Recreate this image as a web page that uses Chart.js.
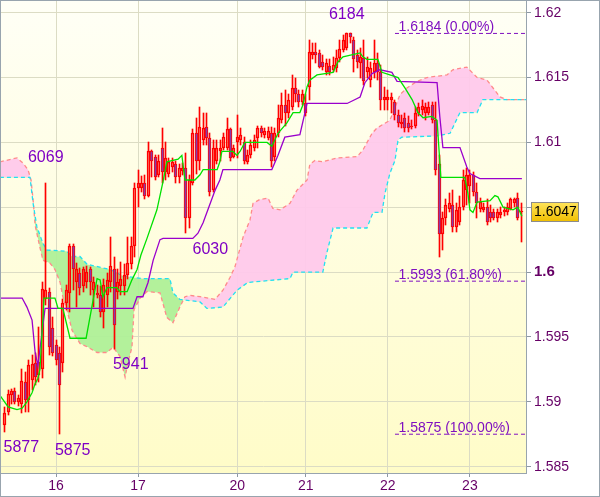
<!DOCTYPE html>
<html>
<head>
<meta charset="utf-8">
<script src="https://cdn.jsdelivr.net/npm/chart.js@4.4.1/dist/chart.umd.min.js"></script>
<style>
html,body{margin:0;padding:0;background:#fff;overflow:hidden}
canvas{display:block}
</style>
</head>
<body>
<canvas id="chart" width="600" height="497"></canvas>
<script>
// hourly candles, index 0..151
const opens = [
  1.5882,1.5892,1.5905,1.5908,1.5900,1.5898,1.5915,1.5901,1.5917,1.5930,
  1.5921,1.5925,1.5979,1.5985,1.5957,1.5944,1.5938,1.5930,1.5976,1.5984,
  1.6020,1.5992,1.5999,1.5989,1.5992,1.6002,1.5986,1.5984,1.5982,1.5969,
  1.5982,1.5992,1.6002,1.5985,1.5989,1.5989,1.5998,1.6006,1.6020,1.6065,
  1.6065,1.6069,1.6059,1.6093,1.6089,1.6075,1.6096,1.6077,1.6076,1.6081,
  1.6083,1.6073,1.6078,1.6080,1.6042,1.6069,1.6107,1.6086,1.6102,1.6112,
  1.6103,1.6063,1.6086,1.6093,1.6096,1.6096,1.6110,1.6089,1.6100,1.6102,
  1.6100,1.6085,1.6090,1.6096,1.6103,1.6111,1.6106,1.6103,1.6107,1.6089,
  1.6107,1.6117,1.6129,1.6123,1.6127,1.6142,1.6137,1.6131,1.6130,1.6143,
  1.6167,1.6170,1.6169,1.6162,1.6154,1.6159,1.6156,1.6157,1.6165,1.6171,
  1.6173,1.6184,1.6179,1.6167,1.6161,1.6165,1.6154,1.6148,1.6154,1.6161,
  1.6154,1.6133,1.6133,1.6133,1.6131,1.6121,1.6114,1.6119,1.6115,1.6112,
  1.6113,1.6123,1.6125,1.6123,1.6123,1.6129,1.6117,1.6083,1.6029,1.6042,
  1.6049,1.6052,1.6035,1.6039,1.6050,1.6063,1.6066,1.6075,1.6062,1.6049,
  1.6048,1.6050,1.6046,1.6046,1.6042,1.6044,1.6046,1.6046,1.6049,1.6053,
  1.6057,1.6046
];
const highs = [
  1.5896,1.5909,1.5910,1.5911,1.5905,1.5925,1.5923,1.5932,1.5936,1.5938,
  1.5958,1.5992,1.6069,1.5988,1.5965,1.5948,1.5942,1.5979,1.5990,1.6022,
  1.6022,1.6007,1.6003,1.6004,1.6005,1.6004,1.5996,1.5990,1.5989,1.5995,
  1.5999,1.6027,1.6012,1.6002,1.6008,1.6006,1.6027,1.6027,1.6069,1.6079,
  1.6074,1.6075,1.6100,1.6094,1.6090,1.6090,1.6111,1.6100,1.6088,1.6088,
  1.6086,1.6083,1.6084,1.6092,1.6075,1.6110,1.6119,1.6127,1.6123,1.6123,
  1.6107,1.6102,1.6102,1.6102,1.6107,1.6119,1.6111,1.6098,1.6121,1.6111,
  1.6104,1.6094,1.6102,1.6106,1.6113,1.6113,1.6111,1.6112,1.6112,1.6111,
  1.6129,1.6138,1.6140,1.6137,1.6152,1.6150,1.6140,1.6140,1.6137,1.6179,
  1.6177,1.6177,1.6171,1.6167,1.6164,1.6164,1.6166,1.6171,1.6179,1.6183,
  1.6184,1.6184,1.6181,1.6171,1.6173,1.6179,1.6166,1.6162,1.6179,1.6169,
  1.6160,1.6143,1.6140,1.6138,1.6133,1.6125,1.6121,1.6123,1.6120,1.6117,
  1.6127,1.6130,1.6133,1.6130,1.6131,1.6131,1.6131,1.6090,1.6046,1.6056,
  1.6061,1.6063,1.6053,1.6059,1.6079,1.6080,1.6079,1.6077,1.6069,1.6057,
  1.6053,1.6056,1.6052,1.6049,1.6049,1.6050,1.6050,1.6053,1.6057,1.6057,
  1.6061,1.6053
];
const lows = [
  1.5877,1.5890,1.5898,1.5898,1.5897,1.5891,1.5892,1.5892,1.5909,1.5913,
  1.5915,1.5918,1.5975,1.5936,1.5935,1.5928,1.5875,1.5923,1.5971,1.5969,
  1.5986,1.5973,1.5982,1.5985,1.5988,1.5982,1.5973,1.5980,1.5965,1.5957,
  1.5973,1.5985,1.5941,1.5979,1.5982,1.5982,1.5995,1.6002,1.6012,1.6050,
  1.6062,1.6056,1.6058,1.6073,1.6071,1.6073,1.6069,1.6071,1.6073,1.6077,
  1.6069,1.6069,1.6075,1.6030,1.6034,1.6067,1.6076,1.6079,1.6098,1.6098,
  1.6059,1.6062,1.6083,1.6086,1.6094,1.6094,1.6086,1.6088,1.6088,1.6098,
  1.6083,1.6083,1.6088,1.6093,1.6096,1.6104,1.6103,1.6102,1.6081,1.6086,
  1.6104,1.6115,1.6113,1.6119,1.6125,1.6131,1.6127,1.6129,1.6120,1.6133,
  1.6164,1.6161,1.6157,1.6156,1.6152,1.6152,1.6154,1.6154,1.6162,1.6170,
  1.6171,1.6177,1.6154,1.6157,1.6150,1.6144,1.6150,1.6143,1.6150,1.6148,
  1.6125,1.6125,1.6125,1.6123,1.6117,1.6112,1.6111,1.6108,1.6108,1.6110,
  1.6111,1.6120,1.6121,1.6117,1.6121,1.6115,1.6075,1.6012,1.6017,1.6036,
  1.6046,1.6031,1.6031,1.6036,1.6048,1.6052,1.6053,1.6059,1.6042,1.6046,
  1.6046,1.6036,1.6039,1.6040,1.6039,1.6042,1.6043,1.6044,1.6048,1.6050,
  1.6040,1.6023
];
const closes = [
  1.5891,1.5906,1.5908,1.5900,1.5903,1.5916,1.5901,1.5928,1.5929,1.5919,
  1.5931,1.5987,1.5986,1.5942,1.5938,1.5932,1.5913,1.5976,1.5986,1.6020,
  1.6002,1.6002,1.5988,1.6002,1.6000,1.5992,1.5992,1.5982,1.5969,1.5990,
  1.5994,1.6005,1.5959,1.5992,1.5995,1.5998,1.6007,1.6020,1.6065,1.6069,
  1.6069,1.6059,1.6093,1.6086,1.6073,1.6086,1.6077,1.6088,1.6085,1.6085,
  1.6073,1.6080,1.6080,1.6042,1.6071,1.6107,1.6086,1.6112,1.6111,1.6103,
  1.6062,1.6096,1.6096,1.6096,1.6104,1.6110,1.6088,1.6096,1.6104,1.6106,
  1.6086,1.6090,1.6098,1.6102,1.6111,1.6107,1.6109,1.6109,1.6086,1.6107,
  1.6119,1.6129,1.6123,1.6133,1.6142,1.6137,1.6131,1.6137,1.6123,1.6170,
  1.6170,1.6167,1.6158,1.6158,1.6161,1.6154,1.6160,1.6165,1.6172,1.6179,
  1.6184,1.6181,1.6164,1.6162,1.6166,1.6147,1.6158,1.6157,1.6161,1.6154,
  1.6133,1.6135,1.6135,1.6135,1.6121,1.6115,1.6116,1.6111,1.6111,1.6113,
  1.6123,1.6127,1.6128,1.6127,1.6127,1.6117,1.6079,1.6029,1.6042,1.6052,
  1.6053,1.6035,1.6048,1.6050,1.6071,1.6075,1.6075,1.6062,1.6053,1.6054,
  1.6050,1.6039,1.6042,1.6042,1.6046,1.6046,1.6048,1.6050,1.6056,1.6056,
  1.6042,1.6047
];

// tenkan (green) and kijun (purple), as bar index / price
const tenkanIdx = [-1.4,1,3.6,5.1,6.5,8,8.9,9.7,10.3,11.5,14.7,15.6,17,19.1,23.8,27,27.9,28.7,29.9,32.8,33.7,35.8,37.2,38.7,39.8,41.6,44.5,46.3,47.4,50.7,51.8,52.7,55.6,57.1,58,62.1,62.9,63.5,66.7,67.9,68.8,70.2,76.7,78.1,79.9,82.5,84.3,86.3,87.2,88.4,89.2,91.3,96,97.4,98.9,103.9,104.7,105.9,109.1,110.3,112.6,115,117,119.1,120.8,122.3,124.9,126.4,127.5,134.5,135.4,136,136.9,138.1,141.9,143.3,144.2,145.7,148.6,150,151.2];
const tenkanVal = [1.5905,1.5896,1.5894,1.5895,1.5900,1.5907,1.5914,1.5918,1.5925,1.5980,1.5980,1.5972,1.5972,1.5949,1.5949,1.5995,1.5994,1.5981,1.5988,1.5988,1.5985,1.5985,1.5994,1.6002,1.6013,1.6026,1.6048,1.6070,1.6085,1.6087,1.6090,1.6071,1.6071,1.6075,1.6079,1.6079,1.6085,1.6093,1.6093,1.6090,1.6093,1.6100,1.6100,1.6097,1.6107,1.6115,1.6123,1.6123,1.6129,1.6143,1.6148,1.6152,1.6154,1.6162,1.6166,1.6169,1.6166,1.6164,1.6164,1.6154,1.6152,1.6150,1.6142,1.6133,1.6123,1.6119,1.6120,1.6117,1.6073,1.6073,1.6061,1.6048,1.6046,1.6054,1.6055,1.6059,1.6058,1.6050,1.6048,1.6050,1.6043];
const kijunIdx = [-1.4,5.1,6.5,8,8.9,9.7,11.8,37.5,38.7,40.4,41.9,43.4,45.4,46.3,55,56.5,58,59.4,61.5,62.9,63.8,78.1,79.9,81.9,86.3,88.4,100.1,103.9,105.3,107.4,109.7,113.2,114.7,126.4,127.2,128.1,133.1,135.1,136,138.9,151.2];
const kijunVal = [1.5980,1.5980,1.5973,1.5963,1.5938,1.5928,1.5972,1.5972,1.5981,1.5981,1.5992,1.6009,1.6025,1.6026,1.6026,1.6030,1.6038,1.6048,1.6063,1.6071,1.6079,1.6079,1.6090,1.6104,1.6106,1.6130,1.6130,1.6135,1.6146,1.6153,1.6156,1.6154,1.6147,1.6146,1.6120,1.6096,1.6096,1.6081,1.6076,1.6072,1.6072];

// cloud spans
const spanAIdx = [-1.4,3.6,5.35,6.8,7.7,8.3,8.9,10.3,11.2,13.2,14.7,16.2,17.0,18.2,19.7,22.0,24.4,27.0,29.9,31.7,33.7,35.2,36.0,37.2,37.8,39.6,41.6,45.4,47.4,49.2,51.2,52.7,54.2,57.1,61.5,63.8,65.9,67.3,69.7,71.7,72.6,74.6,77.0,78.4,80.5,83.4,85.4,88.4,89.2,90.7,93.0,97.1,103.0,104.7,107.4,108.8,112.6,115.6,117.6,120.5,123.4,129.3,131.0,135.1,138.1,141.0,144.8,146.8,152.4];
const spanAVal = [1.6085,1.6088,1.6084,1.6079,1.6071,1.6056,1.6036,1.6019,1.6009,1.6007,1.6002,1.5992,1.5981,1.5971,1.5955,1.5945,1.5942,1.5938,1.5938,1.5942,1.5935,1.5919,1.5930,1.5942,1.5971,1.5980,1.5985,1.5984,1.5965,1.5961,1.5973,1.5981,1.5982,1.5981,1.5979,1.5986,1.5996,1.6004,1.6027,1.6040,1.6053,1.6056,1.6057,1.6049,1.6048,1.6053,1.6063,1.6071,1.6083,1.6086,1.6085,1.6088,1.6089,1.6094,1.6107,1.6111,1.6117,1.6137,1.6142,1.6147,1.6150,1.6152,1.6156,1.6158,1.6150,1.6148,1.6135,1.6133,1.6133];
const spanBIdx = [-1.4,7.4,8.3,9.4,11.2,12.4,18.2,19.7,22.0,24.1,30.8,34.6,40.4,48.3,49.2,51.2,57.1,59.1,63.8,67.9,71.1,83.4,84.3,93.0,94.2,96.0,105.9,107.7,110.3,111.2,112.6,114.1,115.0,116.1,126.4,130.2,133.1,138.1,139.8,152.4];
const spanBVal = [1.6073,1.6073,1.6053,1.6035,1.6022,1.6017,1.6016,1.6012,1.6012,1.6006,1.6002,1.5997,1.5995,1.5995,1.5984,1.5979,1.5977,1.5972,1.5973,1.5986,1.5992,1.5995,1.6000,1.6000,1.6015,1.6034,1.6034,1.6046,1.6046,1.6061,1.6076,1.6086,1.6102,1.6104,1.6105,1.6107,1.6123,1.6123,1.6133,1.6133];

const dayTicks = [15, 39, 68, 88, 112, 136];
const dayLabels = ['16', '17', '20', '21', '22', '23'];
const priceTicks = [1.585, 1.59, 1.595, 1.6, 1.605, 1.61, 1.615, 1.62];
const fibLevels = [1.6184, 1.5993, 1.5875];
const fibLabels = ['1.6184 (0.00%)', '1.5993 (61.80%)', '1.5875 (100.00%)'];
const fibStart = 114.1;
const swingLabels = [
  {text: '6069', i: 12, kind: 'high'},
  {text: '6184', i: 100, kind: 'high'},
  {text: '6030', i: 53, kind: 'low'},
  {text: '5941', i: 32, kind: 'low'},
  {text: '5877', i: 0, kind: 'low'},
  {text: '5875', i: 16, kind: 'low'}
];

const xMin = -1.08, xMax = 152.4;
const yMin = 1.58451, yMax = 1.6209;

const FONT = 'Liberation Sans';
const gridColor = '#dcdcc4';
const axisColor = '#98a4ae';
const labelColor = '#660066';

const idx = opens.map((_, i) => i);
const pts = (xs, ys) => xs.map((x, k) => ({x: x, y: ys[k]}));
const bodies = idx.map(i => ({x: i, y: [opens[i], closes[i]]}));
const upperWicks = idx.map(i => ({x: i, y: [Math.max(opens[i], closes[i]), highs[i]]}));
const lowerWicks = idx.map(i => ({x: i, y: [lows[i], Math.min(opens[i], closes[i])]}));
const bodyFill = idx.map(i => closes[i] < opens[i] ? '#8a3aa8' : 'rgba(0,0,0,0)');

const fibSets = fibLevels.map(l => ({
  type: 'line', data: [{x: fibStart, y: l}, {x: xMax, y: l}],
  borderColor: '#7f10c0', borderWidth: 1, borderDash: [4, 3],
  pointRadius: 0, order: 0
}));

// snap bars onto whole pixels so the thin wicks stay crisp
const snapBars = {
  id: 'snapBars',
  afterDatasetsUpdate(chart) {
    chart.data.datasets.forEach((ds, k) => {
      if (ds.type !== 'bar') return;
      chart.getDatasetMeta(k).data.forEach(el => {
        el.x = Math.round(el.x - 0.5) + 0.5;
        let top = Math.round(el.y), base = Math.round(el.base);
        if (ds.isBody && Math.abs(base - top) < 1) base = top + 1;
        el.y = top; el.base = base; el.height = base - top;
      });
    });
  }
};

const background = {
  id: 'background',
  beforeDraw(chart) {
    const {ctx, chartArea: a} = chart;
    ctx.save();
    ctx.fillStyle = '#ffffff';
    ctx.fillRect(0, 0, chart.width, chart.height);
    const g = ctx.createLinearGradient(0, a.top, 0, a.bottom);
    g.addColorStop(0, '#fffff6');
    g.addColorStop(1, '#fffcc8');
    ctx.fillStyle = g;
    ctx.fillRect(a.left, a.top, a.right - a.left, a.bottom - a.top);
    ctx.restore();
  }
};

const annotations = {
  id: 'annotations',
  afterDatasetsDraw(chart) {
    const {ctx, chartArea: a} = chart;
    const xs = chart.scales.x, ys = chart.scales.y;
    ctx.save();
    ctx.beginPath();
    ctx.rect(a.left, a.top, a.right - a.left, a.bottom - a.top);
    ctx.clip();
    // swing high / low labels
    ctx.font = '16px ' + FONT;
    ctx.fillStyle = '#7f00c4';
    ctx.textBaseline = 'middle';
    swingLabels.forEach(s => {
      const px = xs.getPixelForValue(s.i);
      if (s.kind === 'high') {
        ctx.textAlign = 'center';
        const py = ys.getPixelForValue(highs[s.i]);
        ctx.fillText(s.text, px, py + (s.i === 12 ? -25 : -18.5));
      } else {
        ctx.textAlign = 'left';
        const py = ys.getPixelForValue(lows[s.i]);
        const dx = s.i === 53 ? 6.5 : (s.i === 16 ? -4.5 : -1.2);
        ctx.fillText(s.text, px + dx, py + 16);
      }
    });
    // fibonacci labels
    ctx.font = '14px ' + FONT;
    ctx.fillStyle = '#7f10c0';
    ctx.textAlign = 'left';
    ctx.textBaseline = 'alphabetic';
    fibLevels.forEach((l, k) => {
      ctx.fillText(fibLabels[k], xs.getPixelForValue(fibStart) + 3.5, ys.getPixelForValue(l) - 2.5);
    });
    ctx.restore();
  },
  afterDraw(chart) {
    const {ctx, chartArea: a} = chart;
    const ys = chart.scales.y;
    const last = closes[closes.length - 1];
    const cy = ys.getPixelForValue(last);
    ctx.save();
    const bx = a.right + 5.5, by = Math.round(cy - 9.5) + 0.5, bw = 47, bh = 19;
    const g = ctx.createLinearGradient(0, by, 0, by + bh);
    g.addColorStop(0, '#ffe45a');
    g.addColorStop(1, '#f0bf00');
    ctx.fillStyle = g;
    ctx.fillRect(bx, by, bw, bh);
    ctx.strokeStyle = '#8c8c8c';
    ctx.lineWidth = 1;
    ctx.strokeRect(bx, by, bw, bh);
    ctx.fillStyle = '#000000';
    ctx.font = '14px ' + FONT;
    ctx.textBaseline = 'middle';
    ctx.textAlign = 'left';
    ctx.fillText(last.toFixed(4), bx + 2.5, by + bh / 2 + 0.5);
    // outer frame
    ctx.strokeStyle = axisColor;
    ctx.strokeRect(0.5, 0.5, chart.width - 1, chart.height - 1);
    ctx.restore();
  }
};

new Chart(document.getElementById('chart'), {
  type: 'bar',
  data: {
    datasets: [
      {
        type: 'line', data: pts(spanAIdx, spanAVal),
        borderColor: '#ff8a8a', borderWidth: 1.3, borderDash: [4, 3], pointRadius: 0,
        fill: {target: 1, above: 'rgba(255,200,236,0.92)', below: 'rgba(172,240,150,0.92)'},
        order: 10
      },
      {
        type: 'line', data: pts(spanBIdx, spanBVal),
        borderColor: '#22e0f2', borderWidth: 1.3, borderDash: [4, 3], pointRadius: 0,
        fill: false, order: 9
      },
      {
        type: 'bar', data: upperWicks, backgroundColor: '#ff0000', borderWidth: 0,
        barThickness: 1, grouped: false, order: 6
      },
      {
        type: 'bar', data: lowerWicks, backgroundColor: '#ff0000', borderWidth: 0,
        barThickness: 1, grouped: false, order: 5
      },
      {
        type: 'bar', data: bodies, isBody: true, backgroundColor: bodyFill,
        borderColor: '#ff0000', borderWidth: 1, borderSkipped: false,
        barThickness: 3, grouped: false, order: 4
      },
      {
        type: 'line', data: pts(kijunIdx, kijunVal),
        borderColor: '#9a00cc', borderWidth: 1.3, pointRadius: 0, fill: false, order: 2
      },
      {
        type: 'line', data: pts(tenkanIdx, tenkanVal),
        borderColor: '#00e000', borderWidth: 1.3, pointRadius: 0, fill: false, order: 1
      },
      ...fibSets
    ]
  },
  options: {
    responsive: false,
    animation: false,
    devicePixelRatio: 1,
    layout: {padding: {left: 1, top: 1, right: 0, bottom: 0}},
    plugins: {legend: {display: false}, tooltip: {enabled: false}},
    events: [],
    scales: {
      x: {
        type: 'linear', min: xMin, max: xMax, offset: false,
        afterBuildTicks: s => { s.ticks = dayTicks.map(v => ({value: v})); },
        afterFit: s => { s.height = 24; s.paddingLeft = 0; s.paddingRight = 0; },
        grid: {color: gridColor, tickLength: 4, tickColor: '#8d98a2', offset: false},
        border: {color: axisColor},
        ticks: {
          autoSkip: false, maxRotation: 0, padding: 1, color: labelColor,
          font: {family: FONT, size: 14},
          callback: v => { const k = dayTicks.indexOf(v); return k < 0 ? '' : dayLabels[k]; }
        }
      },
      y: {
        position: 'right', min: yMin, max: yMax,
        afterBuildTicks: s => { s.ticks = priceTicks.map(v => ({value: v})); },
        afterFit: s => { s.width = 74; s.paddingTop = 0; s.paddingBottom = 0; },
        grid: {color: gridColor, tickLength: 5, tickColor: '#8d98a2'},
        border: {color: axisColor},
        ticks: {
          padding: 3, color: labelColor,
          font: c => (c.tick && Math.abs(c.tick.value - 1.6) < 1e-9)
            ? {family: FONT, size: 15, weight: 'bold'}
            : {family: FONT, size: 14},
          callback: v => Math.abs(v - 1.605) < 1e-9 ? '' : String(+v.toFixed(3))
        }
      }
    }
  },
  plugins: [background, snapBars, annotations]
});
</script>
</body>
</html>
